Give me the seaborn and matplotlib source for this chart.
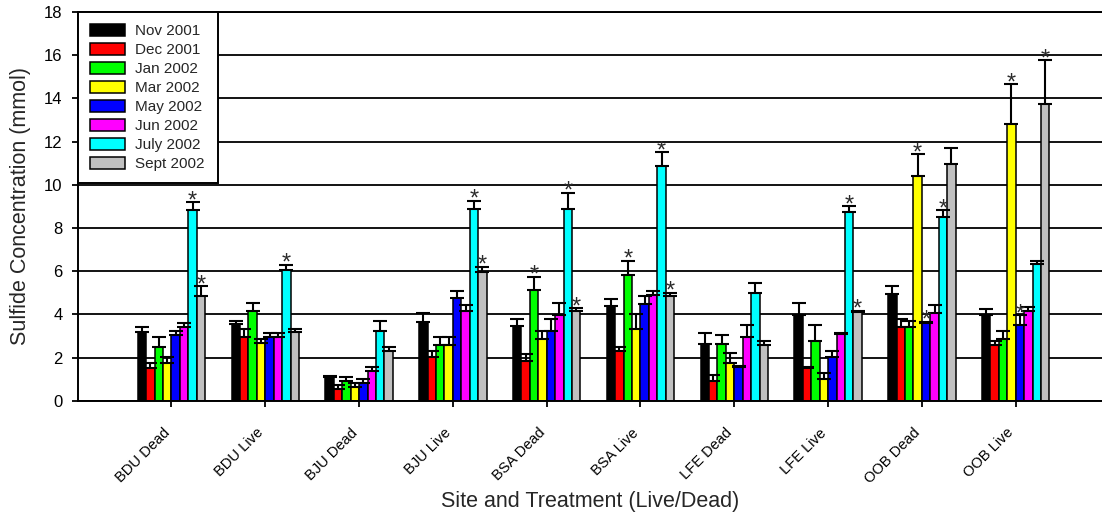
import numpy as np
import pandas as pd
import matplotlib
matplotlib.use("Agg")
import matplotlib.pyplot as plt
import seaborn as sns
from matplotlib import font_manager
from matplotlib.transforms import ScaledTranslation

# ---- data -------------------------------------------------------------
sites = ["BDU Dead", "BDU Live", "BJU Dead", "BJU Live", "BSA Dead",
         "BSA Live", "LFE Dead", "LFE Live", "OOB Dead", "OOB Live"]
months = ["Nov 2001", "Dec 2001", "Jan 2002", "Mar 2002",
          "May 2002", "Jun 2002", "July 2002", "Sept 2002"]

# mean sulfide concentration (mmol) per site, one list per sampling month
nov_2001 = [3.17, 3.55, 1.11, 3.63, 3.46, 4.39, 2.63, 3.99, 4.95, 3.99]
dec_2001 = [1.53, 2.97, 0.53, 2.01, 1.85, 2.32, 0.93, 1.50, 3.43, 2.60]
jan_2002 = [2.50, 4.17, 0.93, 2.60, 5.12, 5.84, 2.63, 2.78, 3.43, 2.87]
mar_2002 = [1.76, 2.69, 0.62, 2.60, 2.87, 3.32, 1.76, 0.99, 10.39, 12.80]
may_2002 = [3.06, 2.97, 0.80, 4.74, 3.21, 4.47, 1.58, 2.04, 3.60, 3.52]
jun_2002 = [3.43, 2.97, 1.39, 4.16, 3.97, 4.91, 2.97, 3.09, 4.08, 4.17]
jul_2002 = [8.81, 6.03, 3.25, 8.90, 8.90, 10.85, 5.01, 8.72, 8.53, 6.31]
sep_2002 = [4.84, 3.17, 2.32, 5.94, 4.17, 4.84, 2.60, 4.11, 10.94, 13.72]

# standard errors (upper bars only)
nov_2001_se = [0.26, 0.16, 0.04, 0.45, 0.34, 0.34, 0.52, 0.55, 0.34, 0.28]
dec_2001_se = [0.20, 0.37, 0.21, 0.28, 0.30, 0.15, 0.24, 0.08, 0.37, 0.18]
jan_2002_se = [0.47, 0.37, 0.18, 0.37, 0.63, 0.65, 0.43, 0.74, 0.26, 0.38]
mar_2002_se = [0.28, 0.15, 0.18, 0.37, 0.34, 0.68, 0.47, 0.31, 1.02, 1.85]
may_2002_se = [0.19, 0.18, 0.22, 0.36, 0.59, 0.37, 0.04, 0.28, 0.05, 0.44]
jun_2002_se = [0.19, 0.18, 0.19, 0.29, 0.57, 0.19, 0.55, 0.06, 0.37, 0.19]
jul_2002_se = [0.37, 0.26, 0.46, 0.37, 0.74, 0.65, 0.46, 0.28, 0.28, 0.18]
sep_2002_se = [0.45, 0.17, 0.18, 0.27, 0.11, 0.17, 0.18, 0.06, 0.74, 2.05]

# (site, month) pairs flagged as significant
significant = [
    ("BDU Dead", "July 2002"), ("BDU Dead", "Sept 2002"),
    ("BDU Live", "July 2002"),
    ("BJU Live", "July 2002"), ("BJU Live", "Sept 2002"),
    ("BSA Dead", "Jan 2002"), ("BSA Dead", "July 2002"), ("BSA Dead", "Sept 2002"),
    ("BSA Live", "Jan 2002"), ("BSA Live", "July 2002"), ("BSA Live", "Sept 2002"),
    ("LFE Live", "July 2002"), ("LFE Live", "Sept 2002"),
    ("OOB Dead", "Mar 2002"), ("OOB Dead", "May 2002"), ("OOB Dead", "July 2002"),
    ("OOB Live", "Mar 2002"), ("OOB Live", "May 2002"), ("OOB Live", "Sept 2002"),
]

colors = ["#000000", "#FF0000", "#00FF00", "#FFFF00",
          "#0000FF", "#FF00FF", "#00FFFF", "#C0C0C0"]

means = [nov_2001, dec_2001, jan_2002, mar_2002,
         may_2002, jun_2002, jul_2002, sep_2002]
errors = [nov_2001_se, dec_2001_se, jan_2002_se, mar_2002_se,
          may_2002_se, jun_2002_se, jul_2002_se, sep_2002_se]

df = pd.DataFrame(
    [(s, m, means[i][j], errors[i][j])
     for i, m in enumerate(months) for j, s in enumerate(sites)],
    columns=["site", "month", "sulfide", "se"],
)


def pick_font(candidates):
    for fam in candidates:
        try:
            font_manager.findfont(font_manager.FontProperties(family=fam),
                                  fallback_to_default=False)
            return fam
        except ValueError:
            continue
    return "DejaVu Sans"


# ---- style ------------------------------------------------------------
sns.set_style("white")
main_font = pick_font(["Liberation Sans", "Arial"])
narrow_font = pick_font(["Liberation Sans Narrow", "Arial Narrow", "Liberation Sans"])
plt.rcParams["font.family"] = [main_font, "DejaVu Sans"]

fig = plt.figure(figsize=(11.02, 5.20), dpi=100)
ax = fig.add_axes([0.0705, 0.2294, 0.9295, 0.7475])

sns.barplot(
    data=df, x="site", y="sulfide", hue="month",
    order=sites, hue_order=months, palette=colors, saturation=1,
    width=0.72, errorbar=None, edgecolor="black", linewidth=1.1,
    legend=False, ax=ax, zorder=2,
)

# one-sided error bars and significance stars on top of each bar
sig_set = set(significant)
for i, (month, container) in enumerate(zip(months, ax.containers)):
    xs, hs = [], []
    for bar in container:
        xs.append(bar.get_x() + bar.get_width() / 2)
        hs.append(bar.get_height())
    err = np.asarray(errors[i])
    ax.errorbar(xs, hs, yerr=[np.zeros_like(err), err], fmt="none",
                ecolor="black", elinewidth=1.5, capsize=4.7, capthick=1.5,
                zorder=3)
    for j, site in enumerate(sites):
        if (site, month) in sig_set:
            ax.annotate("*", (xs[j], hs[j] + err[j]), xytext=(0, -3.6),
                        textcoords="offset points", ha="center",
                        va="baseline", fontsize=17, color="#2b2b2b",
                        zorder=4)

# ---- axes -------------------------------------------------------------
ax.set_xlim(-1.0, 9.92)
ax.set_ylim(0, 18)
ax.set_yticks(np.arange(0, 19, 2))
ax.yaxis.grid(True, color="black", linewidth=1.3)
ax.xaxis.grid(False)
ax.set_axisbelow(True)

for side in ["left", "bottom", "top"]:
    ax.spines[side].set_visible(True)
    ax.spines[side].set_color("black")
    ax.spines[side].set_linewidth(1.4)
ax.spines["right"].set_visible(False)

ax.tick_params(axis="y", direction="out", length=4, width=1.3,
               pad=7, labelsize=12, colors="black", left=True)
ax.tick_params(axis="x", direction="out", length=4, width=1.3,
               pad=14, colors="black", bottom=True)

ax.set_xticks(range(len(sites)))
ax.set_xticklabels(sites, rotation=45, ha="right", va="top",
                   rotation_mode="anchor", fontfamily=narrow_font,
                   fontsize=10.5)
shift = ScaledTranslation(-9 / 100, 0, fig.dpi_scale_trans)
for lbl in ax.get_xticklabels():
    lbl.set_transform(lbl.get_transform() + shift)

ax.set_xlabel("Site and Treatment (Live/Dead)", fontsize=15.5)
ax.set_ylabel("Sulfide Concentration (mmol)", fontsize=15.5)
ax.xaxis.set_label_coords(0.5, -0.232)
ax.yaxis.set_label_coords(-0.0456, 0.5)

leg = ax.legend(
    handles=ax.containers, labels=months, loc="upper left",
    bbox_to_anchor=(0, 0, 0.1367, 1), mode="expand", borderaxespad=0,
    fontsize=11, frameon=True, fancybox=False, framealpha=1,
    edgecolor="black", handlelength=2.3, handleheight=0.8,
    handletextpad=0.7, labelspacing=0.32, borderpad=0.78,
)
leg.get_frame().set_linewidth(1.4)
leg.set_zorder(5)

fig.savefig("out.png", dpi=100)
